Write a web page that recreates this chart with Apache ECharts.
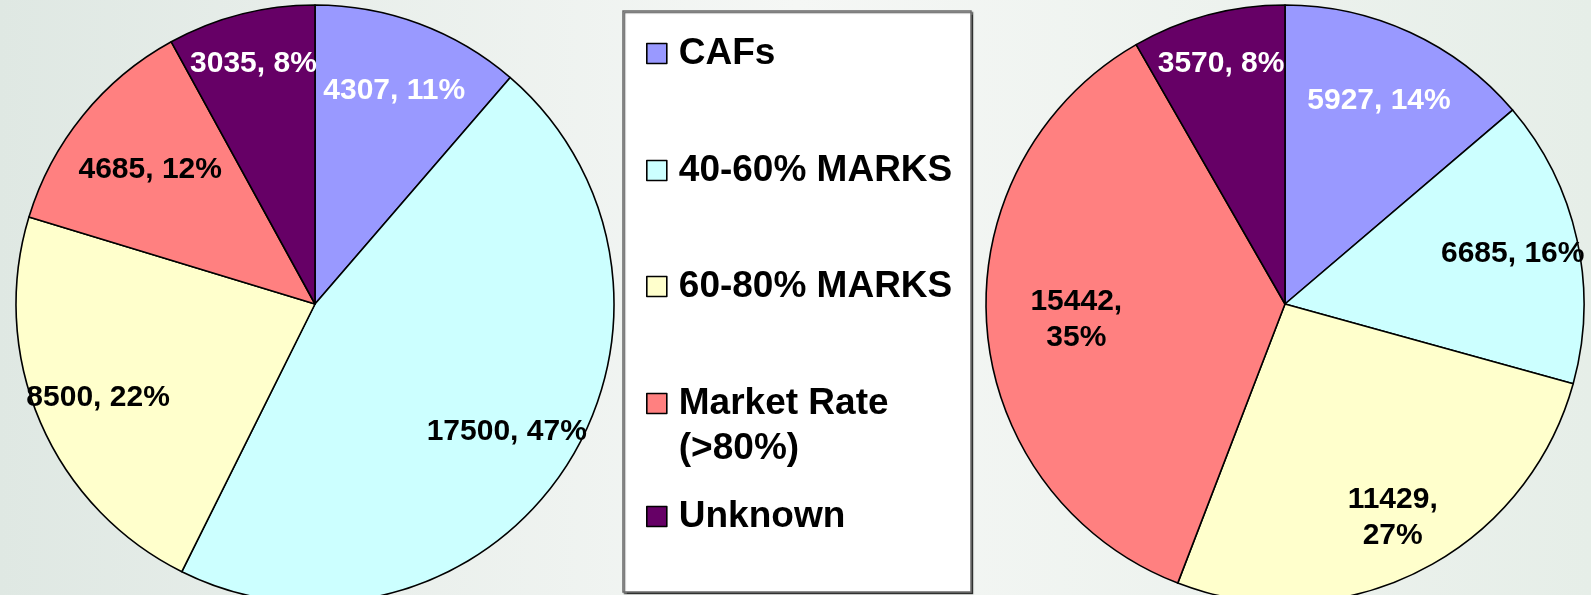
<!DOCTYPE html>
<html>
<head>
<meta charset="utf-8">
<script src="https://cdn.jsdelivr.net/npm/echarts@6/dist/echarts.min.js"></script>
<style>
  html, body { margin: 0; padding: 0; }
  #main { width: 1591px; height: 595px; }
</style>
</head>
<body>
<div id="main"></div>
<script>
// categories and values
const categories = ['CAFs', '40-60% MARKS', '60-80% MARKS', 'Market Rate (>80%)', 'Unknown'];
const leftValues = [4307, 17500, 8500, 4685, 3035];
const leftPercents = [11, 47, 22, 12, 8];
const rightValues = [5927, 6685, 11429, 15442, 3570];
const rightPercents = [14, 16, 27, 35, 8];

// styling / layout
const sliceColors = ['#9999FF', '#CCFFFF', '#FFFFCC', '#FF8080', '#660066'];
const labelInk = ['#ffffff', '#000000', '#000000', '#000000', '#ffffff'];
const leftReach = [0.75, 0.76, 0.78, 0.70, 0.82];   // label distance from centre, fraction of radius
const rightReach = [0.74, 0.77, 0.79, 0.69, 0.82];
const legendTops = [31, 148, 264, 336, 494];
const FONT = '"Liberation Sans", Arial, sans-serif';

const R = 299;
const BASE_REACH = 0.77;
const leftCenter = [315, 304];
const rightCenter = [1285, 304];

const chart = echarts.init(document.getElementById('main'));

const pieData = (values) => values.map((v, i) => ({
    name: categories[i],
    value: v,
    itemStyle: { color: sliceColors[i] }
}));

const labelData = (values, pcts, reach, wrapBig) => {
    const total = values.reduce((a, b) => a + b, 0);
    let run = 0;
    return values.map((v, i) => {
        const mid = (run + v / 2) / total * Math.PI * 2;
        run += v;
        const push = (reach[i] - BASE_REACH) * R;
        return {
            name: categories[i],
            value: v,
            label: {
                color: labelInk[i],
                offset: [push * Math.sin(mid), -push * Math.cos(mid)],
                formatter: (wrapBig && v >= 10000) ? v + ',\n' + pcts[i] + '%' : v + ', ' + pcts[i] + '%'
            }
        };
    });
};

const piece = (center, values) => ({
    type: 'pie',
    center: center,
    radius: [0, R],
    startAngle: 90,
    clockwise: true,
    animation: false,
    silent: true,
    label: { show: false },
    labelLine: { show: false },
    itemStyle: { borderColor: '#000', borderWidth: 1.6 },
    data: pieData(values)
});

// transparent ring on top only to put the labels ~3/4 out along each slice
const labels = (center, values, pcts, reach, wrapBig) => ({
    type: 'pie',
    center: center,
    radius: [R * (2 * BASE_REACH - 1), R],
    startAngle: 90,
    clockwise: true,
    animation: false,
    silent: true,
    z: 3,
    itemStyle: { color: 'rgba(0,0,0,0)', borderWidth: 0 },
    label: {
        show: true,
        position: 'inside',
        fontFamily: FONT,
        fontWeight: 'bold',
        fontSize: 30,
        lineHeight: 36
    },
    labelLine: { show: false },
    emphasis: { disabled: true },
    data: labelData(values, pcts, reach, wrapBig)
});

let option = {
    backgroundColor: {
        type: 'linear', x: 0, y: 0, x2: 1, y2: 0,
        colorStops: [
            { offset: 0, color: '#dfe8e3' },
            { offset: 0.5, color: '#f5f7f5' },
            { offset: 1, color: '#e6eee8' }
        ]
    },
    graphic: [{
        type: 'rect',
        z: 0,
        shape: { x: 623, y: 11, width: 348, height: 581 },
        style: {
            fill: '#ffffff',
            stroke: '#6a6a6a',
            lineWidth: 1.5,
            shadowColor: 'rgba(0,0,0,0.6)',
            shadowOffsetX: 1.5,
            shadowOffsetY: 1.5,
            shadowBlur: 1
        }
    }],
    legend: categories.map((name, i) => ({
        data: [name],
        orient: 'vertical',
        left: 646,
        top: legendTops[i],
        padding: 0,
        icon: 'rect',
        itemWidth: 20,
        itemHeight: 20,
        selectedMode: false,
        itemStyle: { borderColor: '#000', borderWidth: 1.6 },
        // two-line entry: blank first line keeps the square level with "Market Rate"
        formatter: (n) => n.indexOf(' (') >= 0 ? '\n' + n.replace(' (', '\n(') : n,
        textStyle: {
            color: '#000',
            fontFamily: FONT,
            fontWeight: 'bold',
            fontSize: 37,
            lineHeight: 45,
            padding: [0, 0, 0, 7]
        }
    })),
    series: [
        piece(leftCenter, leftValues),
        piece(rightCenter, rightValues),
        labels(leftCenter, leftValues, leftPercents, leftReach, false),
        labels(rightCenter, rightValues, rightPercents, rightReach, true)
    ]
};

chart.setOption(option);
</script>
</body>
</html>
